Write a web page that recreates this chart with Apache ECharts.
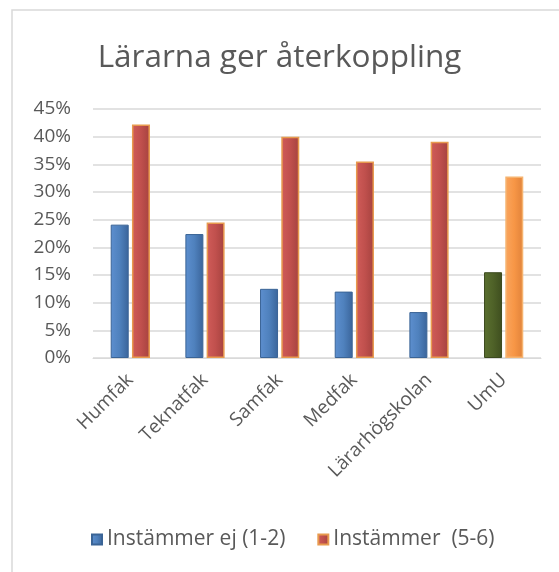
<!DOCTYPE html>
<html>
<head>
<meta charset="utf-8">
<script src="https://cdn.jsdelivr.net/npm/echarts@6/dist/echarts.min.js"></script>
<style>
  html, body { margin: 0; padding: 0; background: #fff; }
  #chart { width: 559px; height: 572px; }
</style>
</head>
<body>
<div id="chart"></div>
<script>
// Lärarna ger återkoppling

var categories = ['Humfak', 'Teknatfak', 'Samfak', 'Medfak', 'Lärarhögskolan', 'UmU'];
var instammerEj = [24.1, 22.4, 12.5, 12.0, 8.3, 15.5];
var instammer = [42.2, 24.5, 40.0, 35.5, 39.1, 32.8];
var yTicks = [0, 5, 10, 15, 20, 25, 30, 35, 40, 45];

function grad(left, mid, right) {
    return new echarts.graphic.LinearGradient(0, 0, 1, 0, [
        { offset: 0, color: left },
        { offset: 0.5, color: mid },
        { offset: 1, color: right }
    ]);
}

var blueFill = grad('#5d8fcf', '#4f81bd', '#3a649a');
var redFill = grad('#d05c59', '#c0504d', '#a5423f');
var greenFill = grad('#5a7030', '#4f6228', '#3e4e1f');
var orangeFill = grad('#f9a55e', '#f79646', '#e0823a');

var ejData = instammerEj.map(function (v, i) {
    if (categories[i] === 'UmU') {
        return { value: v, itemStyle: { color: greenFill, borderColor: '#3b4a1e' } };
    }
    return v;
});
var instData = instammer.map(function (v, i) {
    if (categories[i] === 'UmU') {
        return { value: v, itemStyle: { color: orangeFill, borderColor: '#f6b36f' } };
    }
    return v;
});

var myChart = echarts.init(document.getElementById('chart'));
var option = {
    animation: false,
    textStyle: { fontFamily: 'Open Sans' },
    title: {
        text: 'Lärarna ger återkoppling',
        left: 'center',
        top: 37,
        textStyle: { fontSize: 31.5, fontWeight: 'normal', color: '#595959', fontFamily: 'Open Sans' }
    },
    graphic: [{
        type: 'rect',
        shape: { x: 12, y: 10, width: 560, height: 580 },
        style: { fill: 'none', stroke: '#d9d9d9', lineWidth: 1.5 },
        silent: true
    }],
    legend: {
        bottom: 17,
        left: 86,
        itemWidth: 10,
        itemHeight: 10,
        itemGap: 32,
        icon: 'rect',
        textStyle: { fontSize: 21, color: '#595959' },
        data: ['Instämmer ej (1-2)', 'Instämmer  (5-6)']
    },
    grid: { left: 93, right: 18, top: 109, bottom: 214 },
    xAxis: {
        type: 'category',
        data: categories,
        axisLine: { lineStyle: { color: '#d9d9d9' } },
        axisTick: { show: false },
        axisLabel: { rotate: 45, fontSize: 19, color: '#595959', margin: 19, interval: 0 }
    },
    yAxis: {
        type: 'value',
        min: 0,
        max: 45,
        interval: 5,
        axisLine: { show: false },
        axisTick: { show: false },
        axisLabel: {
            fontSize: 19, color: '#595959', margin: 22,
            formatter: function (v) { return yTicks.indexOf(v) >= 0 ? v + '%' : ''; }
        },
        splitLine: { lineStyle: { color: '#d9d9d9', width: 1.5 } }
    },
    series: [
        {
            name: 'Instämmer ej (1-2)',
            type: 'bar',
            barWidth: 18,
            barGap: '18%',
            data: ejData,
            itemStyle: { color: blueFill, borderColor: '#3a6496', borderWidth: 1 }
        },
        {
            name: 'Instämmer  (5-6)',
            type: 'bar',
            barWidth: 18,
            data: instData,
            itemStyle: { color: redFill, borderColor: '#e89a4e', borderWidth: 1.5 }
        }
    ]
};
myChart.setOption(option);
</script>
</body>
</html>
